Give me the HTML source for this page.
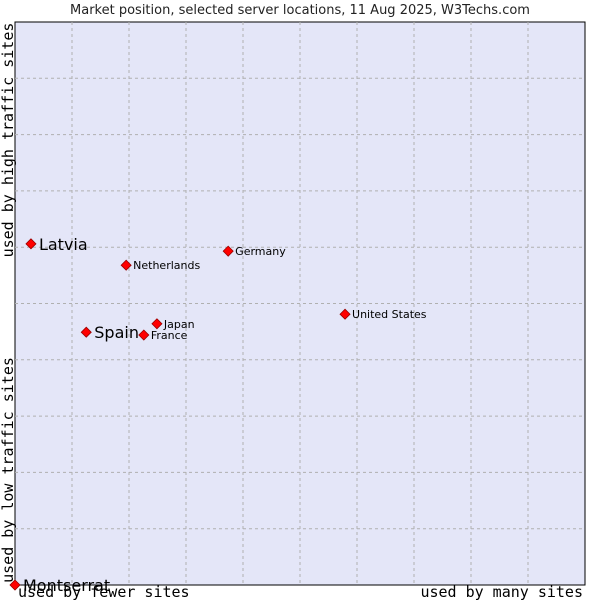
<!DOCTYPE html>
<html><head><meta charset="utf-8"><style>
body{margin:0;background:#fff;}
svg text{font-family:"DejaVu Sans","Liberation Sans",sans-serif;}
.mono{font-family:"DejaVu Sans Mono","Liberation Mono",monospace;}
</style></head><body>
<svg width="600" height="600" xmlns="http://www.w3.org/2000/svg">
<text x="300" y="14" text-anchor="middle" font-size="13" fill="#222">Market position, selected server locations, 11 Aug 2025, W3Techs.com</text>
<rect x="15" y="22" width="570" height="563" fill="#e4e6f8" stroke="#000" stroke-width="1"/>
<g id="grid"></g>
<text class="mono" transform="translate(13,140) rotate(-90)" text-anchor="middle" font-size="15" fill="#000">used by high traffic sites</text>
<text class="mono" transform="translate(13,470) rotate(-90)" text-anchor="middle" font-size="15" fill="#000">used by low traffic sites</text>
<text class="mono" x="18" y="597" font-size="15" fill="#000">used by fewer sites</text>
<text class="mono" x="583" y="597" text-anchor="end" font-size="15" fill="#000">used by many sites</text>
<g id="points"></g>
</svg>
<script>
const names=["Latvia","Netherlands","Germany","United States","Japan","France","Spain","Montserrat"];
const xVals=[0.28,1.95,3.74,5.79,2.49,2.26,1.25,0];
const yVals=[6.06,5.68,5.93,4.81,4.64,4.44,4.49,0];
const big=[true,false,false,false,false,false,true,true];
const NS="http://www.w3.org/2000/svg";
const X0=15,X1=585,Y0=585,Y1=22;
function sx(v){return X0+(X1-X0)*v/10;}
function sy(v){return Y0-(Y0-Y1)*v/10;}
const grid=document.getElementById('grid');
for(let i=1;i<10;i++){
  let l=document.createElementNS(NS,'line');
  
  
  l.setAttribute('x1',sx(i));l.setAttribute('x2',sx(i));l.setAttribute('y1',Y1);l.setAttribute('y2',Y0);
  l.setAttribute('stroke','#b0b0b0');l.setAttribute('stroke-dasharray','3,3');
  grid.appendChild(l);
  let h=document.createElementNS(NS,'line');
  
  
  h.setAttribute('y1',sy(i));h.setAttribute('y2',sy(i));h.setAttribute('x1',X0);h.setAttribute('x2',X1);
  h.setAttribute('stroke','#b0b0b0');h.setAttribute('stroke-dasharray','3,3');
  grid.appendChild(h);
}
const pts=document.getElementById('points');
names.forEach((n,i)=>{
  const x=sx(xVals[i]),y=sy(yVals[i]);
  let d=document.createElementNS(NS,'path');
  
  
  d.setAttribute('d',`M${x} ${y-5}L${x+5} ${y}L${x} ${y+5}L${x-5} ${y}Z`);
  d.setAttribute('fill','#f00');d.setAttribute('stroke','#900');d.setAttribute('stroke-width','0.8');
  pts.appendChild(d);
  let t=document.createElementNS(NS,'text');
  
  
  t.setAttribute('x',x+(big[i]?8:7));t.setAttribute('y',y+(big[i]?6:4));
  t.setAttribute('font-size',big[i]?'16':'11');t.setAttribute('fill','#000');
  t.textContent=n;
  pts.appendChild(t);
});
</script>
</body></html>
